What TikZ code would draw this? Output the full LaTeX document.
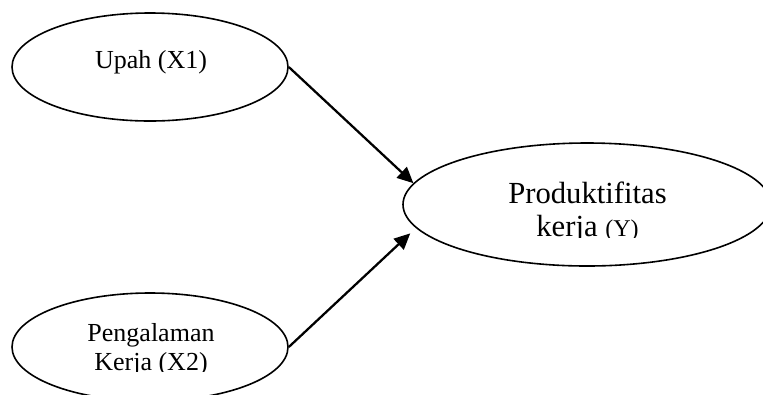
\documentclass[tikz,border=0pt]{standalone}
\usepackage{fontspec}
\setmainfont{Liberation Serif}
\usetikzlibrary{shapes.geometric,arrows.meta}
\begin{document}
\begin{tikzpicture}[x=0.75pt,y=-0.75pt,
  oval/.style={draw,ellipse,line width=1.2pt,inner sep=0pt},
  lbl/.style={anchor=base,inner sep=0pt,font=\fontsize{19.5}{22}\selectfont},
  big/.style={anchor=base,inner sep=0pt,font=\fontsize{23}{26}\selectfont},
  conn/.style={line width=1.7pt,-{Triangle[length=12pt,width=11pt]}}]
\useasboundingbox (0,0) rectangle (763,394);
\clip (0,0) rectangle (763,394);
\node[oval,minimum width=207pt,minimum height=81pt] (a) at (150,67) {};
\node[oval,minimum width=207pt,minimum height=81pt] (b) at (150,347) {};
\node[oval,minimum width=276pt,minimum height=92.25pt] (c) at (587,204.5) {};
\node[lbl] (ta) at (151,68) {Upah (X1)};
\node[lbl] (tb1) at (151,341.5) {Pengalaman};
\begin{scope}
  \clip (0,0) rectangle (763,371.5);
  \node[lbl] (tb2) at (151,370.5) {Kerja (X2)};
\end{scope}
\node[big] (tc1) at (587.5,203) {Produktifitas};
\begin{scope}
  \clip (0,0) rectangle (763,237);
  \node[big] (tc2) at (587.5,236) {kerja {\fontsize{18}{20}\selectfont(Y)}};
\end{scope}
\draw[conn] (a.east) -- (c.173.6);
\draw[conn] (b.east) -- ([xshift=-9.75pt]c.190.6);
\end{tikzpicture}
\end{document}
